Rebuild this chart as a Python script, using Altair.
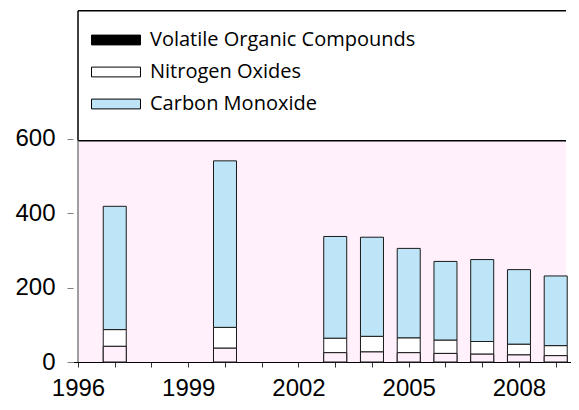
import altair as alt
import pandas as pd

# ---- data ----
years = [1997, 2000, 2003, 2004, 2005, 2006, 2007, 2008, 2009]
voc = [42, 37, 25, 27, 25, 23, 21, 19, 17]
nox = [45, 56, 39, 42, 40, 36, 34, 29, 27]
co = [331, 447, 273, 266, 240, 211, 220, 200, 187]
series = ["Volatile Organic Compounds", "Nitrogen Oxides", "Carbon Monoxide"]
legend_fills = ["#000000", "#FFFFFF", "#BEE5F7"]
y_ticks = [0, 200, 400, 600]
x_ticks = list(range(1996, 2010))

# ---- styling / frame constants ----
PINK = "#FFF0FC"
X_DOMAIN = [1996, 2009.28]
Y_DOMAIN = [0, 945]
PLOT_TOP = 594
FRAME_TOP = 943
AXIS_FONT = "Liberation Sans"
LEGEND_FONT = "Open Sans"
W, H = 498, 352

rows = []
for i, yr in enumerate(years):
    for k, (name, vals) in enumerate(zip(series, [voc, nox, co])):
        rows.append({"year": yr, "series": name, "value": vals[i], "ord": k})
df = pd.DataFrame(rows)

xscale = alt.Scale(domain=X_DOMAIN, nice=False, zero=False)
yscale = alt.Scale(domain=Y_DOMAIN, nice=False)

x_axis = alt.Axis(
    values=x_ticks, format="d",
    labelExpr="(datum.value - 1996) % 3 == 0 ? datum.label : ''",
    title=None, grid=False, domain=True, domainColor="#000000", domainWidth=1,
    ticks=True, tickSize=5, tickColor="#333333", tickWidth=1,
    labelFont=AXIS_FONT, labelFontSize=24, labelColor="#000000",
    labelPadding=9, labelFlush=False, labelOverlap=False,
)
y_axis = alt.Axis(
    values=y_ticks, title=None, grid=False, domain=False,
    ticks=True, tickSize=6, tickColor="#808080", tickWidth=1,
    labelFont=AXIS_FONT, labelFontSize=24, labelColor="#000000",
    labelPadding=12, labelFlush=False, labelOverlap=False,
)


def X(field=None, datum=None):
    if datum is not None:
        return alt.X(datum=datum, type="quantitative", scale=xscale, axis=x_axis)
    return alt.X(field, type="quantitative", scale=xscale, axis=x_axis)


def Y(field=None, datum=None, **kw):
    if datum is not None:
        return alt.Y(datum=datum, type="quantitative", scale=yscale, axis=y_axis)
    return alt.Y(field, type="quantitative", scale=yscale, axis=y_axis, **kw)


bg = alt.Chart(pd.DataFrame({"lo": [0], "hi": [PLOT_TOP]})).transform_calculate(
    x0=str(X_DOMAIN[0]), x1=str(X_DOMAIN[1])
).mark_rect(fill=PINK).encode(
    x=X("x0"), x2="x1:Q", y=Y("lo"), y2="hi:Q",
)

bars = alt.Chart(df).mark_bar(size=23, stroke="#1a1a1a", strokeWidth=1).encode(
    x=X("year"),
    y=Y("value", stack="zero"),
    fill=alt.Fill(
        "series:N",
        scale=alt.Scale(domain=series, range=legend_fills),
        legend=alt.Legend(
            title=None, orient="none", legendX=30, legendY=17,
            direction="vertical", padding=0,
            symbolType="M-2,-0.4H2V0.4H-2Z", symbolSize=600,
            symbolStrokeColor="#000000", symbolStrokeWidth=1, symbolOpacity=1,
            labelFont=LEGEND_FONT, labelFontSize=20, labelColor="#000000",
            labelOffset=21, rowPadding=9, labelLimit=400,
        ),
    ),
    order=alt.Order("ord:Q", sort="ascending"),
)

voc_bars = alt.Chart(df).transform_filter(
    alt.datum.series == series[0]
).mark_bar(size=23, fill=PINK, stroke="#1a1a1a", strokeWidth=1).encode(
    x=X("year"),
    y=Y("value"),
)

rule_top_plot = alt.Chart().mark_rule(color="#000000", strokeWidth=1.5).encode(
    x=X(datum=X_DOMAIN[0]), x2=alt.datum(X_DOMAIN[1]), y=Y(datum=PLOT_TOP)
)
rule_frame_top = alt.Chart().mark_rule(color="#000000", strokeWidth=1.5).encode(
    x=X(datum=X_DOMAIN[0]), x2=alt.datum(X_DOMAIN[1]), y=Y(datum=FRAME_TOP)
)
rule_frame_left = alt.Chart().mark_rule(color="#000000", strokeWidth=1.5).encode(
    x=X(datum=X_DOMAIN[0]), y=Y(datum=PLOT_TOP), y2=alt.datum(FRAME_TOP)
)
rule_axis_left = alt.Chart().mark_rule(color="#808080", strokeWidth=1.5).encode(
    x=X(datum=X_DOMAIN[0]), y=Y(datum=0), y2=alt.datum(PLOT_TOP)
)

chart = alt.layer(
    bg, bars, voc_bars, rule_top_plot, rule_frame_top, rule_frame_left, rule_axis_left
).properties(
    width=W, height=H,
    padding={"left": 65, "top": 2, "right": 0, "bottom": 39},
    autosize=alt.AutoSizeParams(type="none"),
    background="#FFFFFF",
).configure_view(stroke=None)

chart.save("out.html", embed_options={"renderer": "svg", "actions": False})
